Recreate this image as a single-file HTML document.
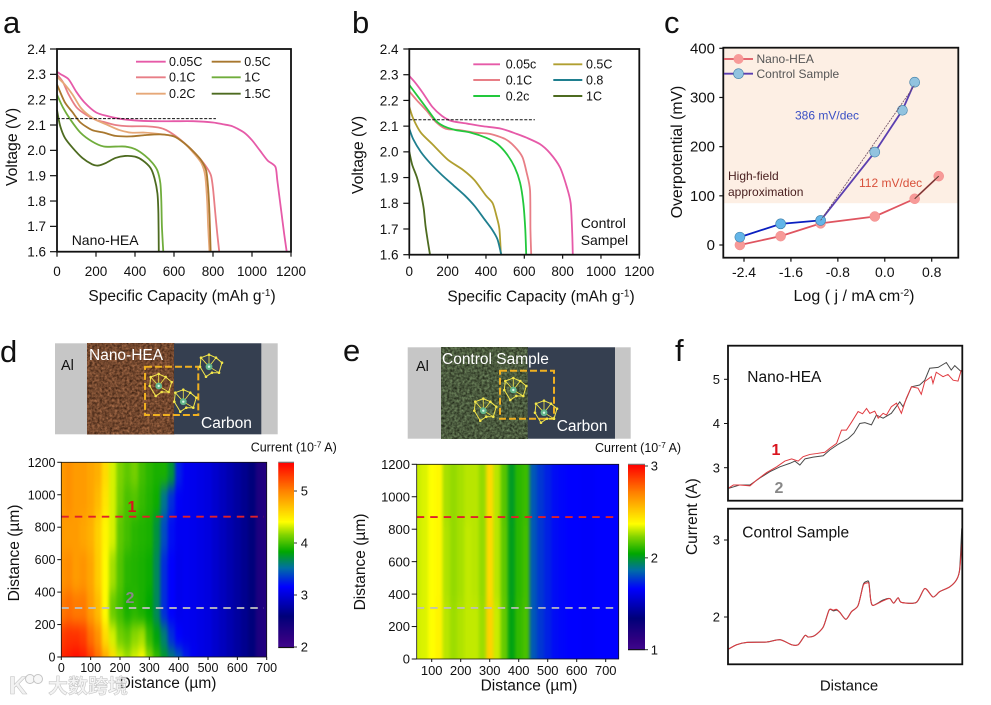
<!DOCTYPE html>
<html lang="en">
<head>
<meta charset="utf-8">
<title>Nano-HEA vs Control Sample electrochemistry figure</title>
<style>
html,body{margin:0;padding:0;background:#fff;width:991px;height:705px;overflow:hidden}
svg{display:block}
text{font-family:"Liberation Sans","Noto Sans CJK SC",sans-serif;fill:#111}
</style>
</head>
<body>
<svg id="fig" xmlns="http://www.w3.org/2000/svg" width="991" height="705" viewBox="0 0 991 705">
<defs>
  <filter id="brownTex" x="0" y="0" width="1" height="1" color-interpolation-filters="sRGB">
    <feTurbulence type="fractalNoise" baseFrequency=".4" numOctaves="3" seed="4"/>
    <feColorMatrix type="matrix" values=".6 0 0 0 .15  .42 0 0 0 .07  .3 0 0 0 .03  0 0 0 0 1"/>
  </filter>
  <filter id="greenTex" x="0" y="0" width="1" height="1" color-interpolation-filters="sRGB">
    <feTurbulence type="fractalNoise" baseFrequency=".4" numOctaves="3" seed="9"/>
    <feColorMatrix type="matrix" values="0 .45 0 0 .065  0 .55 0 0 .075  0 .4 0 0 .04  0 0 0 0 1"/>
  </filter>
  <filter id="heatBlur" filterUnits="userSpaceOnUse" x="0" y="430" width="991" height="260" color-interpolation-filters="sRGB">
    <feGaussianBlur stdDeviation="1.6 7"/>
  </filter>
  <clipPath id="clipD"><rect x="61.3" y="462.3" width="205.4" height="194.7"/></clipPath>
  <clipPath id="clipE"><rect x="416.7" y="464.3" width="202" height="194.7"/></clipPath>
  <g id="mol">
    <polygon points="-8,-9 0,-12 7,-9 13,-4 10,6 3,6 -3,10 -9,0" fill="none" stroke="#f3e64a" stroke-width="1"/>
    <path d="M0,0L0,-12M0,0L7,-9M0,0L-8,-9M0,0L10,6" stroke="#f3e64a" stroke-width=".8" fill="none"/>
    <g fill="#f3e64a"><circle cx="-8" cy="-9" r="1.3"/><circle cx="0" cy="-12" r="1.3"/><circle cx="7" cy="-9" r="1.3"/><circle cx="13" cy="-4" r="1.3"/><circle cx="10" cy="6" r="1.3"/><circle cx="3" cy="6" r="1.3"/><circle cx="-3" cy="10" r="1.3"/><circle cx="-9" cy="0" r="1.3"/></g>
    <circle r="3.4" fill="#63b58a"/><circle r="1.2" fill="#d8f5e4"/>
  </g>
</defs>

<g id="panelA">
  <text x="3" y="33" font-size="31">a</text>
  <text x="182" y="301" font-size="15.5" text-anchor="middle">Specific Capacity (mAh g<tspan dy="-5" font-size="10">-1</tspan><tspan dy="5">)</tspan></text>
  <text transform="translate(17,147) rotate(-90)" font-size="15.8" text-anchor="middle">Voltage (V)</text>
  <text x="71.7" y="245" font-size="14">Nano-HEA</text>
</g>
<g id="panelB">
  <text x="352" y="33" font-size="31">b</text>
  <text x="541" y="301.5" font-size="15.5" text-anchor="middle">Specific Capacity (mAh g<tspan dy="-5" font-size="10">-1</tspan><tspan dy="5">)</tspan></text>
  <text transform="translate(363,155) rotate(-90)" font-size="15.8" text-anchor="middle">Voltage (V)</text>
  <text x="580.7" y="228" font-size="14">Control</text>
  <text x="580.7" y="245" font-size="14">Sampel</text>
</g>
<g id="panelC">
  <text x="664" y="33" font-size="31">c</text>
  <text x="854" y="301" font-size="16" text-anchor="middle">Log ( j / mA cm<tspan dy="-5" font-size="10">-2</tspan><tspan dy="5">)</tspan></text>
  <text transform="translate(682,152) rotate(-90)" font-size="15.8" text-anchor="middle">Overpotential (mV)</text>
</g>
<g id="panelD">
  <text x="0" y="362" font-size="31">d</text>
  <g>
    <rect x="55" y="343.3" width="222.7" height="91" fill="#c6c6c6"/>
    <rect x="87.3" y="343.3" width="87" height="91" filter="url(#brownTex)"/>
    <rect x="174" y="343.3" width="87.3" height="91" fill="#353f50"/>
    <text x="61" y="370" font-size="14.5">Al</text>
    <text x="89" y="360" font-size="15.5" style="fill:#fff">Nano-HEA</text>
    <text x="201" y="428" font-size="15.5" style="fill:#fff">Carbon</text>
    <rect x="145" y="366.7" width="53.3" height="48.3" fill="none" stroke="#f0b020" stroke-width="2" stroke-dasharray="7 3"/>
    <use href="#mol" x="158.7" y="386"/>
    <use href="#mol" x="183.3" y="401.7"/>
    <use href="#mol" x="209" y="366.7"/>
  </g>
  <text x="250.7" y="451.5" font-size="12.5">Current (10<tspan dy="-4" font-size="8.5">-7</tspan><tspan dy="4"> A)</tspan></text>
  <text x="168" y="688" font-size="15.5" text-anchor="middle">Distance (µm)</text>
  <text transform="translate(19,553) rotate(-90)" font-size="15.5" text-anchor="middle">Distance (µm)</text>
</g>
<g id="panelE">
  <text x="343" y="361" font-size="31">e</text>
  <g>
    <rect x="407.7" y="347.3" width="223" height="91.4" fill="#c6c6c6"/>
    <rect x="441" y="347.3" width="87" height="91.4" filter="url(#greenTex)"/>
    <rect x="527.7" y="347.3" width="87.3" height="91.4" fill="#353f50"/>
    <text x="416" y="371" font-size="14.5">Al</text>
    <text x="442" y="364" font-size="15.5" style="fill:#fff">Control Sample</text>
    <text x="556.7" y="431" font-size="15.5" style="fill:#fff">Carbon</text>
    <rect x="500" y="370.7" width="54" height="48" fill="none" stroke="#f0b020" stroke-width="2" stroke-dasharray="7 3"/>
    <use href="#mol" x="513.3" y="390"/>
    <use href="#mol" x="544" y="412.7"/>
    <use href="#mol" x="483.3" y="410.7"/>
  </g>
  <text x="595" y="452" font-size="12.5">Current (10<tspan dy="-4" font-size="8.5">-7</tspan><tspan dy="4"> A)</tspan></text>
  <text x="529" y="690.5" font-size="15.5" text-anchor="middle">Distance (µm)</text>
  <text transform="translate(365,562) rotate(-90)" font-size="15.5" text-anchor="middle">Distance (µm)</text>
</g>
<g id="panelF">
  <text x="675" y="361" font-size="31">f</text>
  <text transform="translate(697,516.7) rotate(-90)" font-size="15.5" text-anchor="middle">Current (A)</text>
  <text x="849" y="690.5" font-size="15" text-anchor="middle">Distance</text>
  <text x="747.3" y="382" font-size="15.5">Nano-HEA</text>
  <text x="742.3" y="537.5" font-size="15.5">Control Sample</text>
  <text x="776" y="455" font-size="16" font-weight="bold" text-anchor="middle" style="fill:#d9141e">1</text>
  <text x="779" y="493" font-size="16" font-weight="bold" text-anchor="middle" style="fill:#888">2</text>
</g>

<g id="watermark">
  <text x="9" y="694" font-size="25" font-weight="bold" style="fill:#f2f2f2;stroke:#c4c4c4;stroke-width:.6">K</text>
  <circle cx="30" cy="679" r="4.5" fill="#f7f7f7" stroke="#c4c4c4" stroke-width="1"/>
  <circle cx="38" cy="679" r="4.5" fill="#f7f7f7" stroke="#c4c4c4" stroke-width="1"/>
  <text x="48" y="693" font-size="20" font-weight="bold" style="fill:rgba(240,240,240,.8);stroke:#c0c0c0;stroke-width:.5">大数跨境</text>
</g>
</svg>

<script>
/* ---------- Panel a data ---------- */
const aCap005=[0,20,60,100,140,200,260,320,400,500,600,700,800,850,900,960,1000,1040,1080,1120,1130,1150,1165,1178];
const aVolt005=[2.31,2.30,2.28,2.23,2.19,2.15,2.135,2.125,2.118,2.115,2.115,2.115,2.11,2.103,2.095,2.07,2.04,2.0,1.96,1.935,1.88,1.76,1.67,1.6];
const aCap01=[0,30,60,100,150,200,250,300,370,450,520,560,620,680,730,770,790,800,812,822,832];
const aVolt01=[2.30,2.27,2.22,2.17,2.14,2.12,2.11,2.10,2.095,2.095,2.09,2.08,2.05,2.01,1.97,1.93,1.90,1.85,1.75,1.67,1.6];
const aCap02=[0,40,80,120,160,200,260,320,380,450,520,600,650,700,740,760,770,775,782];
const aVolt02=[2.29,2.26,2.22,2.17,2.14,2.12,2.10,2.08,2.07,2.07,2.065,2.055,2.03,1.99,1.95,1.90,1.80,1.70,1.6];
const aCap05=[0,40,80,120,180,240,300,380,450,530,600,650,700,740,765,775,782,788];
const aVolt05=[2.26,2.19,2.15,2.11,2.08,2.07,2.057,2.055,2.06,2.063,2.055,2.03,1.995,1.96,1.92,1.85,1.75,1.6];
const aCap1=[0,30,70,120,180,240,300,350,400,450,490,515,530,535,538,545];
const aVolt1=[2.22,2.17,2.12,2.07,2.035,2.015,2.015,2.015,2.005,1.98,1.95,1.92,1.87,1.8,1.7,1.6];
const aCap15=[0,15,40,80,130,180,210,250,300,350,400,440,480,500,515,520,522];
const aVolt15=[2.16,2.10,2.05,2.01,1.97,1.945,1.94,1.95,1.97,1.978,1.975,1.96,1.93,1.89,1.83,1.75,1.6];
const capTicks=[0,200,400,600,800,1000,1200];
const voltTicks=[1.6,1.7,1.8,1.9,2.0,2.1,2.2,2.3,2.4];
const aReferenceVoltage=[2.125];
const aReferenceCap=[0,815];
const bReferenceVoltage=[2.125];
const bReferenceCap=[0,655];

/* ---------- Panel b data ---------- */
const bCap005=[0,30,70,120,170,220,300,380,480,560,612,682,734,786,821,842,850,853];
const bVolt005=[2.295,2.27,2.23,2.175,2.14,2.12,2.11,2.10,2.09,2.07,2.055,2.03,1.995,1.94,1.865,1.80,1.683,1.6];
const bCap01=[0,40,90,140,190,260,340,420,500,550,590,612,630,632,636];
const bVolt01=[2.235,2.2,2.16,2.115,2.09,2.085,2.075,2.07,2.05,2.02,1.98,1.92,1.85,1.7,1.6];
const bCap02=[0,40,90,140,180,240,320,400,460,510,550,578,595,605,610];
const bVolt02=[2.26,2.22,2.17,2.12,2.10,2.085,2.075,2.055,2.03,1.99,1.94,1.88,1.80,1.70,1.6];
const bCap05=[0,20,60,120,200,280,340,400,435,455,470,478];
const bVolt05=[2.175,2.13,2.075,2.03,1.97,1.93,1.89,1.83,1.80,1.75,1.70,1.6];
const bCap08=[0,20,60,110,170,230,290,340,390,430,460,480];
const bVolt08=[2.09,2.05,2.0,1.955,1.91,1.87,1.83,1.79,1.74,1.70,1.66,1.6];
const bCap1=[0,15,40,60,75,85,97,108];
const bVolt1=[2.0,1.95,1.90,1.84,1.78,1.71,1.65,1.6];

/* ---------- Panel c data ---------- */
const cLogJNano=[-2.47,-1.775,-1.094,-0.17,0.51,0.92];
const cEtaNano=[0,18,44,58,94,140];
const cLogJControl=[-2.47,-1.775,-1.094,-0.17,0.3,0.51];
const cEtaControl=[16,43,50,189,274,331];
const cLogJTicks=[-2.4,-1.6,-0.8,0.0,0.8];
const cEtaTicks=[0,100,200,300,400];
const cFitNanoX=[0.51,0.92];
const cFitNanoY=[94,140];
const cFitControlX=[-1.094,0.51];
const cFitControlY=[50,325];
const cShadeFloor=[85];

/* ---------- Panel d heatmap data (current, 10^-7 A) ---------- */
const dColumns=[0,25,50,75,100,125,150,175,200,225,250,275,300,325,350,375,400,425,450,475,500,525,550,575,600,625,650,675,700];
const dRowsY=[1150,950,800,500,300,100,0];
const dRow1150=[4.85,4.9,4.85,4.85,4.8,4.75,4.55,4.3,4.12,4.05,4.1,3.98,3.92,3.88,3.88,3.72,3.25,3.1,3.08,3.05,3.02,2.95,2.88,2.82,2.75,2.68,2.6,2.35,2.3];
const dRow950=[4.85,4.9,4.85,4.85,4.8,4.7,4.5,4.3,4.1,4.0,4.02,3.95,3.9,3.85,3.55,3.3,3.12,3.1,3.08,3.05,3.02,2.95,2.88,2.82,2.75,2.68,2.6,2.35,2.3];
const dRow800=[4.85,4.85,4.85,4.8,4.75,4.6,4.42,4.3,4.05,3.98,3.92,3.9,3.88,3.7,3.4,3.2,3.1,3.1,3.08,3.05,3.02,2.95,2.88,2.82,2.75,2.68,2.6,2.35,2.3];
const dRow500=[4.88,4.92,4.85,4.88,4.8,4.62,4.4,4.2,4.02,3.92,3.9,3.88,3.85,3.65,3.3,3.15,3.08,3.1,3.08,3.05,3.02,2.95,2.88,2.82,2.75,2.68,2.6,2.35,2.3];
const dRow300=[5.0,5.05,5.0,5.0,4.85,4.7,4.4,4.08,3.98,3.88,3.92,3.88,3.82,3.65,3.3,3.15,3.08,3.1,3.08,3.05,3.02,2.95,2.88,2.82,2.75,2.68,2.6,2.35,2.3];
const dRow100=[5.25,5.3,5.3,5.25,5.05,4.9,4.55,4.3,4.1,4.05,4.15,4.2,3.95,3.8,3.6,3.3,3.15,3.1,3.08,3.05,3.02,2.95,2.88,2.82,2.75,2.68,2.6,2.35,2.3];
const dRow0=[5.35,5.4,5.45,5.4,5.25,5.05,4.8,4.55,4.3,4.2,4.3,4.4,4.15,3.95,3.75,3.6,3.45,3.25,3.1,3.05,3.02,2.95,2.88,2.82,2.75,2.68,2.6,2.35,2.3];
const dXTicks=[0,100,200,300,400,500,600,700];
const distanceYTicks=[0,200,400,600,800,1000,1200];
const dColorTicks=[2,3,4,5];
const dLineDistances=[865,302];

/* ---------- Panel e heatmap data ---------- */
const eColumns=[50,75,100,125,150,175,200,225,250,275,300,325,350,375,400,425,450,475,500,525,550,575,600,625,650,675,700,725,750];
const eRowsY=[1100,600,100];
const eRow1100=[2.30,2.32,2.36,2.38,2.26,2.24,2.26,2.28,2.28,2.24,2.46,2.28,2.16,2.0,2.10,2.12,1.82,1.76,1.72,1.68,1.67,1.66,1.66,1.65,1.65,1.66,1.66,1.66,1.66];
const eRow600=[2.30,2.32,2.36,2.38,2.27,2.24,2.26,2.29,2.28,2.24,2.46,2.28,2.17,2.01,2.10,2.13,1.82,1.76,1.72,1.68,1.67,1.66,1.66,1.65,1.65,1.66,1.66,1.66,1.66];
const eRow100=[2.31,2.32,2.36,2.39,2.28,2.25,2.27,2.29,2.29,2.25,2.48,2.30,2.18,2.02,2.11,2.14,1.82,1.76,1.72,1.68,1.67,1.66,1.66,1.65,1.65,1.66,1.66,1.66,1.66];
const eXTicks=[100,200,300,400,500,600,700];
const eColorTicks=[1,2,3];
const eLineDistances=[875,315];

/* ---------- Panel f data ---------- */
const fTopRedX=[0,2.3,5.1,9.4,12.2,16.5,20.8,24.3,27.2,30,32.1,35,37.8,41.4,43.5,46.4,48.5,50.6,52.8,55.6,57.5,59.2,60.6,62.7,64.2,66.3,67.7,69.8,72,74.1,76.2,78.4,81.2,82.6,84.1,86.9,87.6,89,91.9,94,96.2,98.3,99.7];
const fTopRedV=[2.53,2.61,2.61,2.59,2.72,2.89,3.02,3.15,3.20,3.15,3.25,3.30,3.32,3.35,3.44,3.55,3.85,3.85,4.03,4.27,4.22,4.34,4.23,4.28,4.12,4.23,4.19,4.38,4.46,4.23,4.57,4.83,4.80,4.66,4.95,5.06,4.91,5.16,5.06,5.11,4.98,4.96,5.21];
const fTopGrayX=[0,5.1,9.4,13.7,17.9,22.2,26.5,28.6,30.7,32.9,36.4,40.7,43.5,47.1,51.4,53.8,56.3,58.5,61.3,63.4,66.3,69.8,73.4,74.8,78.4,81.9,84.1,86.2,89.8,93.3,95.4,96.9,99.7];
const fTopGrayV=[2.53,2.61,2.61,2.77,2.91,3.02,3.10,3.15,3.06,3.20,3.24,3.27,3.40,3.53,3.66,3.78,4.0,4.02,3.97,4.19,4.12,4.23,4.49,4.38,4.83,4.87,4.98,5.25,5.27,5.38,5.21,5.31,5.17];
const fBottomX=[0,3.7,8,16.5,22.2,27.2,30,32.9,34.3,37.1,40.7,43.2,45,46.4,47.8,50.4,52.8,55.6,57.8,59.2,60.2,61,62,66.3,69.1,70.8,72.7,74.1,80.5,84.1,87.6,90.5,94.7,97.6,99,99.9];
const fBottomRedV=[1.58,1.64,1.67,1.675,1.705,1.64,1.64,1.76,1.74,1.76,1.87,2.09,2.09,2.10,2.06,1.97,2.07,2.15,2.41,2.44,2.43,2.22,2.15,2.21,2.24,2.18,2.25,2.19,2.19,2.37,2.26,2.33,2.39,2.48,2.61,2.95];
const fBottomGrayV=[1.58,1.64,1.67,1.675,1.705,1.64,1.64,1.76,1.74,1.76,1.87,2.09,2.08,2.09,2.06,1.97,2.07,2.15,2.42,2.46,2.45,2.22,2.15,2.22,2.24,2.18,2.25,2.19,2.19,2.37,2.26,2.33,2.39,2.48,2.62,3.15];
const fTopTicks=[3,4,5];
const fBottomTicks=[2,3];

/* ---------- helpers ---------- */
const NS='http://www.w3.org/2000/svg';
function scale(d0,d1,r0,r1){return function(v){return r0+(v-d0)*(r1-r0)/(d1-d0);};}
function mk(parent,tag,attrs,txt){
  const e=document.createElementNS(NS,tag);
  for(const k in attrs){e.setAttribute(k,attrs[k]);}
  if(txt!==undefined){e.textContent=txt;}
  parent.appendChild(e);
  return e;
}
function pts(xs,ys,sx,sy){return xs.map(function(x,i){return sx(x).toFixed(2)+','+sy(ys[i]).toFixed(2);}).join(' ');}
function smoothPath(xs,ys,sx,sy){
  const P=xs.map(function(x,i){return [sx(x),sy(ys[i])];});
  const k=0.13;
  let d='M'+P[0][0].toFixed(2)+','+P[0][1].toFixed(2);
  for(let i=0;i+1<P.length;i++){
    const p0=P[Math.max(0,i-1)],p1=P[i],p2=P[i+1],p3=P[Math.min(P.length-1,i+2)];
    const c1x=p1[0]+(p2[0]-p0[0])*k,c1y=p1[1]+(p2[1]-p0[1])*k;
    const c2x=p2[0]-(p3[0]-p1[0])*k,c2y=p2[1]-(p3[1]-p1[1])*k;
    d+='C'+c1x.toFixed(2)+','+c1y.toFixed(2)+' '+c2x.toFixed(2)+','+c2y.toFixed(2)+' '+p2[0].toFixed(2)+','+p2[1].toFixed(2);
  }
  return d;
}
const cmapStops=[[0,[62,8,140]],[0.05,[50,0,130]],[0.17,[0,0,122]],[0.33,[0,0,255]],[0.43,[0,110,165]],[0.52,[0,168,0]],[0.61,[130,212,0]],[0.68,[255,255,0]],[0.85,[255,128,0]],[1,[255,0,0]]];
function cmap(t){
  t=Math.max(0,Math.min(1,t));
  for(let i=1;i<cmapStops.length;i++){
    const a=cmapStops[i-1],b=cmapStops[i];
    if(t<=b[0]){
      const f=(t-a[0])/(b[0]-a[0]);
      const c=a[1].map(function(v,k){return Math.round(v+(b[1][k]-v)*f);});
      return 'rgb('+c.join(',')+')';
    }
  }
  return 'rgb(255,0,0)';
}
function axes(g,o){
  o.xTicks.forEach(function(v){
    const t=mk(g,'line',{x1:o.sx(v),x2:o.sx(v),y1:o.bottom,y2:o.bottom+o.xLen,stroke:'#111','stroke-width':o.tickW||1.2});
    
    
    const l=mk(g,'text',{x:o.sx(v),y:o.xLabelY,'font-size':o.font,'text-anchor':'middle'},o.xFmt?o.xFmt(v):String(v));
    
    
  });
  o.yTicks.forEach(function(v){
    const t=mk(g,'line',{x1:o.left-o.yLen,x2:o.left,y1:o.sy(v),y2:o.sy(v),stroke:'#111','stroke-width':o.tickW||1.2});
    
    
    const l=mk(g,'text',{x:o.yLabelX,y:o.sy(v)+o.font*0.36,'font-size':o.yFont||o.font,'text-anchor':'end'},o.yFmt?o.yFmt(v):String(v));
    
    
  });
}
function frame(g,x,y,w,h,sw){
  const r=mk(g,'rect',{x:x,y:y,width:w,height:h,fill:'none',stroke:'#111','stroke-width':sw||1.8});
  
  
}
function legendRow(g,x1,x2,y,tx,color,label){
  const l=mk(g,'line',{x1:x1,x2:x2,y1:y,y2:y,stroke:color,'stroke-width':1.9});
  
  
  const t=mk(g,'text',{x:tx,y:y+4.4,'font-size':12.5},label);
  
  
}
function heatmap(parentId,clip,cols,rowYs,rows,sx,sy,lo,hi,L,R,T,B){
  const outer=mk(document.getElementById(parentId),'g',{'clip-path':'url(#'+clip+')'});
  
  
  const g=mk(outer,'g',{filter:'url(#heatBlur)'});
  rows.forEach(function(row,i){
    const yTop=i===0?T-18:(sy(rowYs[i-1])+sy(rowYs[i]))/2;
    const yBot=i===rows.length-1?B+18:(sy(rowYs[i])+sy(rowYs[i+1]))/2;
    row.forEach(function(v,j){
      const xL=j===0?L-10:(sx(cols[j-1])+sx(cols[j]))/2;
      const xR=j===cols.length-1?R+10:(sx(cols[j])+sx(cols[j+1]))/2;
      const c=mk(g,'rect',{x:xL,y:yTop,width:xR-xL+0.4,height:yBot-yTop+0.4,fill:cmap((v-lo)/(hi-lo))});
      
      
    });
  });
}
function colorbar(g,x,w,top,bottom,scaleFn,ticks,lo,hi,labelX){
  const n=Math.round(bottom-top);
  for(let i=0;i<n;i++){
    const t=1-i/n;
    const c=mk(g,'rect',{x:x,y:top+i,width:w,height:1.4,fill:cmap(t)});
    
    
  }
  const tp=mk(g,'line',{x1:x,x2:x+w,y1:top,y2:top,stroke:'#777','stroke-width':1.2});
  
  
  const bt=mk(g,'line',{x1:x,x2:x+w,y1:bottom,y2:bottom,stroke:'#111','stroke-width':1.2});
  
  
  ticks.forEach(function(v){
    const t=mk(g,'line',{x1:x+w,x2:x+w+3,y1:scaleFn(v),y2:scaleFn(v),stroke:'#333','stroke-width':1});
    
    
    const l=mk(g,'text',{x:labelX,y:scaleFn(v)+4.7,'font-size':13},String(v));
    
    
  });
}
function dashed(g,x1,x2,y,color,name){
  const l=mk(g,'line',{x1:x1,x2:x2,y1:y,y2:y,stroke:color,'stroke-width':1.9,'stroke-dasharray':'7.5 6'});
  
  
}

/* ---------- Panel a ---------- */
(function(){
  const g=document.getElementById('panelA');
  const sx=scale(0,1200,57,291),sy=scale(1.6,2.4,251.7,49);
  const series=[['0.05C',aCap005,aVolt005,'#e65aa8'],['0.1C',aCap01,aVolt01,'#e87e86'],['0.2C',aCap02,aVolt02,'#e6a878'],['0.5C',aCap05,aVolt05,'#a8772e'],['1C',aCap1,aVolt1,'#70ad3c'],['1.5C',aCap15,aVolt15,'#4d6b20']];
  series.forEach(function(s){
    const p=mk(g,'path',{d:smoothPath(s[1],s[2],sx,sy),fill:'none',stroke:s[3],'stroke-width':1.8,'stroke-linejoin':'round'});
    
    
  });
  const ref=mk(g,'line',{x1:sx(aReferenceCap[0]),x2:sx(aReferenceCap[1]),y1:sy(aReferenceVoltage[0]),y2:sy(aReferenceVoltage[0]),stroke:'#111','stroke-width':1,'stroke-dasharray':'3 1.6'});
  
  
  frame(g,57,49,234,202.7);
  axes(g,{sx:sx,sy:sy,xTicks:capTicks,yTicks:voltTicks,left:57,bottom:251.7,xLen:5,yLen:7,xLabelY:276,yLabelX:46,font:13.5,yFmt:function(v){return v.toFixed(1);}});
  const ys=[61.7,77.3,93.7];
  [0,1,2].forEach(function(i){legendRow(g,136,165.7,ys[i],169,series[i][3],series[i][0]);});
  [3,4,5].forEach(function(i){legendRow(g,211.7,240.7,ys[i-3],244.3,series[i][3],series[i][0]);});
})();

/* ---------- Panel b ---------- */
(function(){
  const g=document.getElementById('panelB');
  const sx=scale(0,1200,409.3,639.3),sy=scale(1.6,2.4,254.7,49);
  const series=[['0.05c',bCap005,bVolt005,'#e65aa8'],['0.1C',bCap01,bVolt01,'#e87e86'],['0.2c',bCap02,bVolt02,'#22c83c'],['0.5C',bCap05,bVolt05,'#b09f30'],['0.8',bCap08,bVolt08,'#1f7f8f'],['1C',bCap1,bVolt1,'#4d6b20']];
  series.forEach(function(s){
    const p=mk(g,'path',{d:smoothPath(s[1],s[2],sx,sy),fill:'none',stroke:s[3],'stroke-width':1.8,'stroke-linejoin':'round'});
    
    
  });
  const ref=mk(g,'line',{x1:sx(bReferenceCap[0]),x2:sx(bReferenceCap[1]),y1:sy(bReferenceVoltage[0]),y2:sy(bReferenceVoltage[0]),stroke:'#111','stroke-width':1,'stroke-dasharray':'3 1.6'});
  
  
  frame(g,409.3,49,230,205.7);
  axes(g,{sx:sx,sy:sy,xTicks:capTicks,yTicks:voltTicks,left:409.3,bottom:254.7,xLen:4,yLen:6,xLabelY:276,yLabelX:398.5,font:13.5,yFmt:function(v){return v.toFixed(1);}});
  const ys=[64.3,80,96];
  [0,1,2].forEach(function(i){legendRow(g,473.3,500,ys[i],505.7,series[i][3],series[i][0]);});
  [3,4,5].forEach(function(i){legendRow(g,553.3,582.3,ys[i-3],586,series[i][3],series[i][0]);});
})();

/* ---------- Panel c ---------- */
(function(){
  const g=document.getElementById('panelC');
  const sx=scale(-2.4,0.8,744,931.7),sy=scale(0,400,245,48.3);
  const shade=mk(g,'rect',{x:723.3,y:47.7,width:235,height:sy(cShadeFloor[0])-47.7,fill:'#fdefe4'});
  
  
  const nano=mk(g,'polyline',{points:pts(cLogJNano,cEtaNano,sx,sy),fill:'none',stroke:'#df5560','stroke-width':1.8});
  
  
  const ctrl1=mk(g,'polyline',{points:pts(cLogJControl.slice(0,3),cEtaControl.slice(0,3),sx,sy),fill:'none',stroke:'#0a1fc0','stroke-width':1.8});
  
  
  const ctrl2=mk(g,'polyline',{points:pts(cLogJControl.slice(2),cEtaControl.slice(2),sx,sy),fill:'none',stroke:'#5b3fb0','stroke-width':1.8});
  
  
  cLogJNano.forEach(function(x,i){
    const m=mk(g,'circle',{cx:sx(x),cy:sy(cEtaNano[i]),r:5,fill:'#f79a98',stroke:'#f28b8b','stroke-width':.5});
    
    
  });
  cLogJControl.forEach(function(x,i){
    const m=mk(g,'circle',{cx:sx(x),cy:sy(cEtaControl[i]),r:5,fill:i<3?'#63b5e8':'#92c3df',stroke:'#3f7fa8','stroke-width':.6});
    
    
  });
  const f1=mk(g,'polyline',{points:pts(cFitNanoX,cFitNanoY,sx,sy),fill:'none',stroke:'#5a3a30','stroke-width':1});
  
  
  const f2=mk(g,'polyline',{points:pts(cFitControlX,cFitControlY,sx,sy),fill:'none',stroke:'#6a4a60','stroke-width':.8,'stroke-dasharray':'2 1'});
  
  
  frame(g,723.3,47.7,235,210);
  axes(g,{sx:sx,sy:sy,xTicks:cLogJTicks,yTicks:cEtaTicks,left:723.3,bottom:257.7,xLen:4,yLen:4,xLabelY:277,yLabelX:715,font:14,yFont:15,xFmt:function(v){return v.toFixed(1);}});
  const l1=mk(g,'line',{x1:724,x2:753,y1:59,y2:59,stroke:'#df5560','stroke-width':1.8});
  
  
  const m1=mk(g,'circle',{cx:738.5,cy:59,r:5,fill:'#f79a98'});
  
  
  const l2=mk(g,'line',{x1:724,x2:753,y1:73.7,y2:73.7,stroke:'#5b3fb0','stroke-width':1.8});
  
  
  const m2=mk(g,'circle',{cx:738.5,cy:73.7,r:5,fill:'#92c3df',stroke:'#3f7fa8','stroke-width':.6});
  
  
  const t1=mk(g,'text',{x:756.5,y:63,'font-size':12,style:'fill:#555'},'Nano-HEA');
  
  
  const t2=mk(g,'text',{x:756.5,y:78,'font-size':12,style:'fill:#555'},'Control Sample');
  
  
  const a1=mk(g,'text',{x:795,y:119.5,'font-size':12,style:'fill:#3a4fc4'},'386 mV/dec');
  
  
  const a2=mk(g,'text',{x:859,y:187,'font-size':12,style:'fill:#d8503a'},'112 mV/dec');
  
  
  const h1=mk(g,'text',{x:728,y:180,'font-size':12,style:'fill:#4a2020'},'High-field');
  
  
  const h2=mk(g,'text',{x:728,y:196,'font-size':12,style:'fill:#4a2020'},'approximation');
  
  
})();

/* ---------- Panel d ---------- */
(function(){
  const g=document.getElementById('panelD');
  const sx=scale(0,700,61.3,266.7),sy=scale(0,1200,657,462.3);
  const rows=[dRow1150,dRow950,dRow800,dRow500,dRow300,dRow100,dRow0];
  heatmap('panelD','clipD',dColumns,dRowsY,rows,sx,sy,2,5.5,61.3,266.7,462.3,657);
  dashed(g,61.3,264,sy(dLineDistances[0]),'#e0202a','line-profile-1-d');
  dashed(g,61.3,264,sy(dLineDistances[1]),'rgba(190,190,190,.9)','line-profile-2-d');
  const l1=mk(g,'text',{x:132,y:512,'font-size':16,'font-weight':'bold','text-anchor':'middle',style:'fill:#d9141e'},'1');
  
  
  const l2=mk(g,'text',{x:130,y:603,'font-size':16,'font-weight':'bold','text-anchor':'middle',style:'fill:#888'},'2');
  
  
  frame(g,61.3,462.3,205.4,194.7,.8);
  axes(g,{sx:sx,sy:sy,xTicks:dXTicks,yTicks:distanceYTicks,left:61.3,bottom:657,xLen:3,yLen:4,xLabelY:672,yLabelX:55.5,font:12.5,yFont:12.5,tickW:1});
  colorbar(g,278.3,15.7,462.3,647.5,scale(2,5.5,647,465),dColorTicks,2,5.5,300.7);
})();

/* ---------- Panel e ---------- */
(function(){
  const g=document.getElementById('panelE');
  const sx=scale(100,700,431.7,605.7),sy=scale(0,1200,659,464.3);
  const rows=[eRow1100,eRow600,eRow100];
  heatmap('panelE','clipE',eColumns,eRowsY,rows,sx,sy,1,3,416.7,618.7,464.3,659);
  dashed(g,416.7,618.7,sy(eLineDistances[0]),'#e0202a','line-profile-1-e');
  dashed(g,416.7,616,sy(eLineDistances[1]),'rgba(190,190,190,.9)','line-profile-2-e');
  frame(g,416.7,464.3,202,194.7,.8);
  axes(g,{sx:sx,sy:sy,xTicks:eXTicks,yTicks:distanceYTicks,left:416.7,bottom:659,xLen:3,yLen:5,xLabelY:675,yLabelX:410,font:13,yFont:13,tickW:1});
  colorbar(g,628,17,464.3,649.7,scale(1,3,649.7,466),eColorTicks,1,3,650.7);
})();

/* ---------- Panel f ---------- */
(function(){
  const g=document.getElementById('panelF');
  const sx=scale(0,100,728,962);
  const syT=scale(3,5,467.7,379.3),syB=scale(2,3,617,540);
  const grayT=mk(g,'polyline',{points:pts(fTopGrayX,fTopGrayV,sx,syT),fill:'none',stroke:'#4a4a4a','stroke-width':1});
  
  
  const redT=mk(g,'polyline',{points:pts(fTopRedX,fTopRedV,sx,syT),fill:'none',stroke:'#e0393f','stroke-width':1});
  
  
  const grayB=mk(g,'path',{d:smoothPath(fBottomX,fBottomGrayV,sx,syB),fill:'none',stroke:'#4a4a4a','stroke-width':1.1});
  
  
  const redB=mk(g,'path',{d:smoothPath(fBottomX,fBottomRedV,sx,syB),fill:'none',stroke:'#e0393f','stroke-width':1});
  
  
  frame(g,728,345.7,234.3,155,1.8);
  frame(g,728,508.7,234.3,155.6,1.8);
  axes(g,{sx:sx,sy:syT,xTicks:[],yTicks:fTopTicks,left:728,bottom:500,xLen:0,yLen:4,xLabelY:0,yLabelX:720,font:13,tickW:1});
  axes(g,{sx:sx,sy:syB,xTicks:[],yTicks:fBottomTicks,left:728,bottom:664,xLen:0,yLen:4,xLabelY:0,yLabelX:720,font:13,tickW:1});
})();

/* keep the watermark on top of everything */
document.getElementById('fig').appendChild(document.getElementById('watermark'));
</script>
</body>
</html>
